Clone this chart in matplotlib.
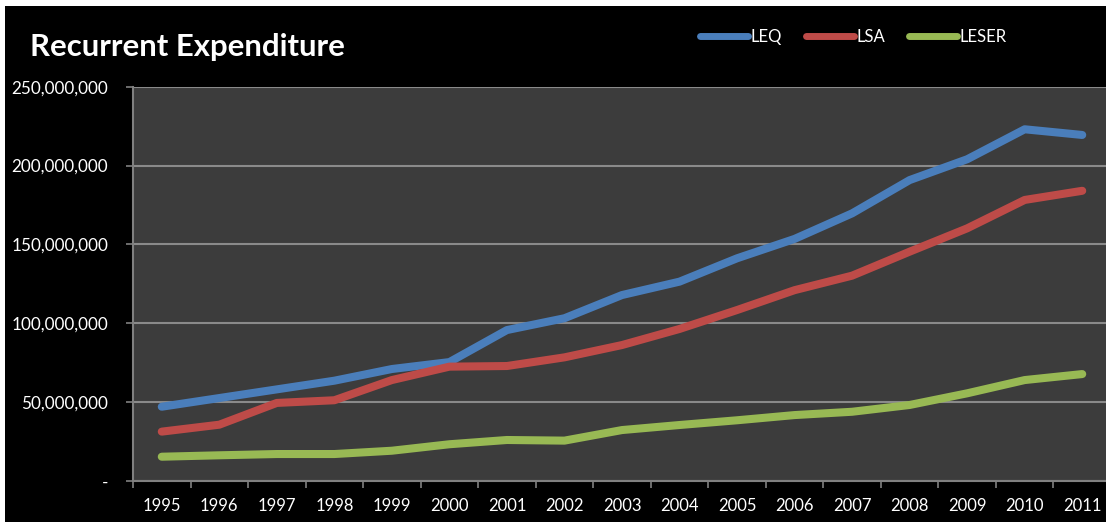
import numpy as np
import matplotlib.pyplot as plt
import matplotlib.ticker as mticker
from matplotlib.patches import Rectangle

plt.rcParams["font.family"] = ["Lato", "DejaVu Sans"]

# ─── Dados ────────────────────────────────────────────────────────────────────
years = [str(y) for y in range(1995, 2012)]
leq   = [47.1, 52.6, 58.1, 63.6, 71.0, 75.4, 95.7, 103.2, 117.9, 126.4,
         141.2, 153.5, 169.7, 190.8, 204.0, 223.0, 219.4]
lsa   = [31.3, 35.7, 49.5, 51.2, 64.0, 72.5, 72.9, 78.4, 86.2, 96.4,
         108.4, 121.0, 130.2, 145.4, 160.2, 178.2, 184.0]
leser = [15.4, 16.3, 17.1, 17.1, 19.2, 23.3, 26.0, 25.6, 32.3, 35.5,
         38.5, 41.8, 43.9, 48.2, 55.6, 64.0, 67.8]
series = {"LEQ": leq, "LSA": lsa, "LESER": leser}
colors = {"LEQ": "#4A7EBB", "LSA": "#BE4B48", "LESER": "#98B954"}

# ─── Figura ───────────────────────────────────────────────────────────────────
fig = plt.figure(figsize=(11.06, 5.22), dpi=100, facecolor="white")
fig.patches.append(Rectangle((5 / 1106, 0), 1, 1 - 6 / 522, transform=fig.transFigure,
                             facecolor="black", edgecolor="none", zorder=-10))

ax = fig.add_axes([133 / 1106, 41 / 522, 978 / 1106, 394.3 / 522])
ax.set_facecolor("#3C3C3C")

x = np.arange(len(years))
handles = []
for name, vals in series.items():
    (ln,) = ax.plot(x, np.array(vals) * 1e6, color=colors[name], linewidth=5.8,
                    solid_capstyle="round", solid_joinstyle="round", label=name,
                    zorder=3)
    handles.append(ln)

ax.set_xlim(-0.5, len(years) - 0.5)
ax.set_ylim(0, 250e6)
ax.set_yticks(np.arange(0, 250e6 + 1, 50e6))
ax.yaxis.set_major_formatter(
    mticker.FuncFormatter(lambda v, p: "-" if v == 0 else f"{int(v):,}"))

ax.set_xticks(np.arange(-0.5, len(years)), labels=[])
ax.set_xticks(x, labels=years, minor=True)
ax.tick_params(axis="x", which="major", length=5, width=1.2, color="#808080",
               direction="out")
ax.tick_params(axis="x", which="minor", length=0, pad=12, labelsize=12,
               labelcolor="white")
ax.tick_params(axis="y", length=5, width=1.2, color="#808080", pad=13,
               labelsize=12.3, labelcolor="white")

ax.grid(axis="y", color="#8A8A8A", linewidth=1.5, zorder=1)
for side in ["left", "bottom"]:
    ax.spines[side].set_color("#808080")
    ax.spines[side].set_linewidth(1.5)
for side in ["top", "right"]:
    ax.spines[side].set_visible(False)

fig.text(30 / 1106, 1 - 47 / 522, "Recurrent Expenditure", color="white",
         fontsize=22.4, fontweight="bold", va="center", ha="left")

leg = fig.legend(handles=handles, loc="center left",
                 bbox_to_anchor=(685 / 1106, 1 - 37 / 522), ncol=3, frameon=False,
                 fontsize=12, labelcolor="white", handlelength=2.9,
                 handletextpad=0.12, columnspacing=1.45)
for h in leg.legend_handles:
    h.set_linewidth(5)

fig.savefig("out.png", dpi=100, facecolor=fig.get_facecolor())
